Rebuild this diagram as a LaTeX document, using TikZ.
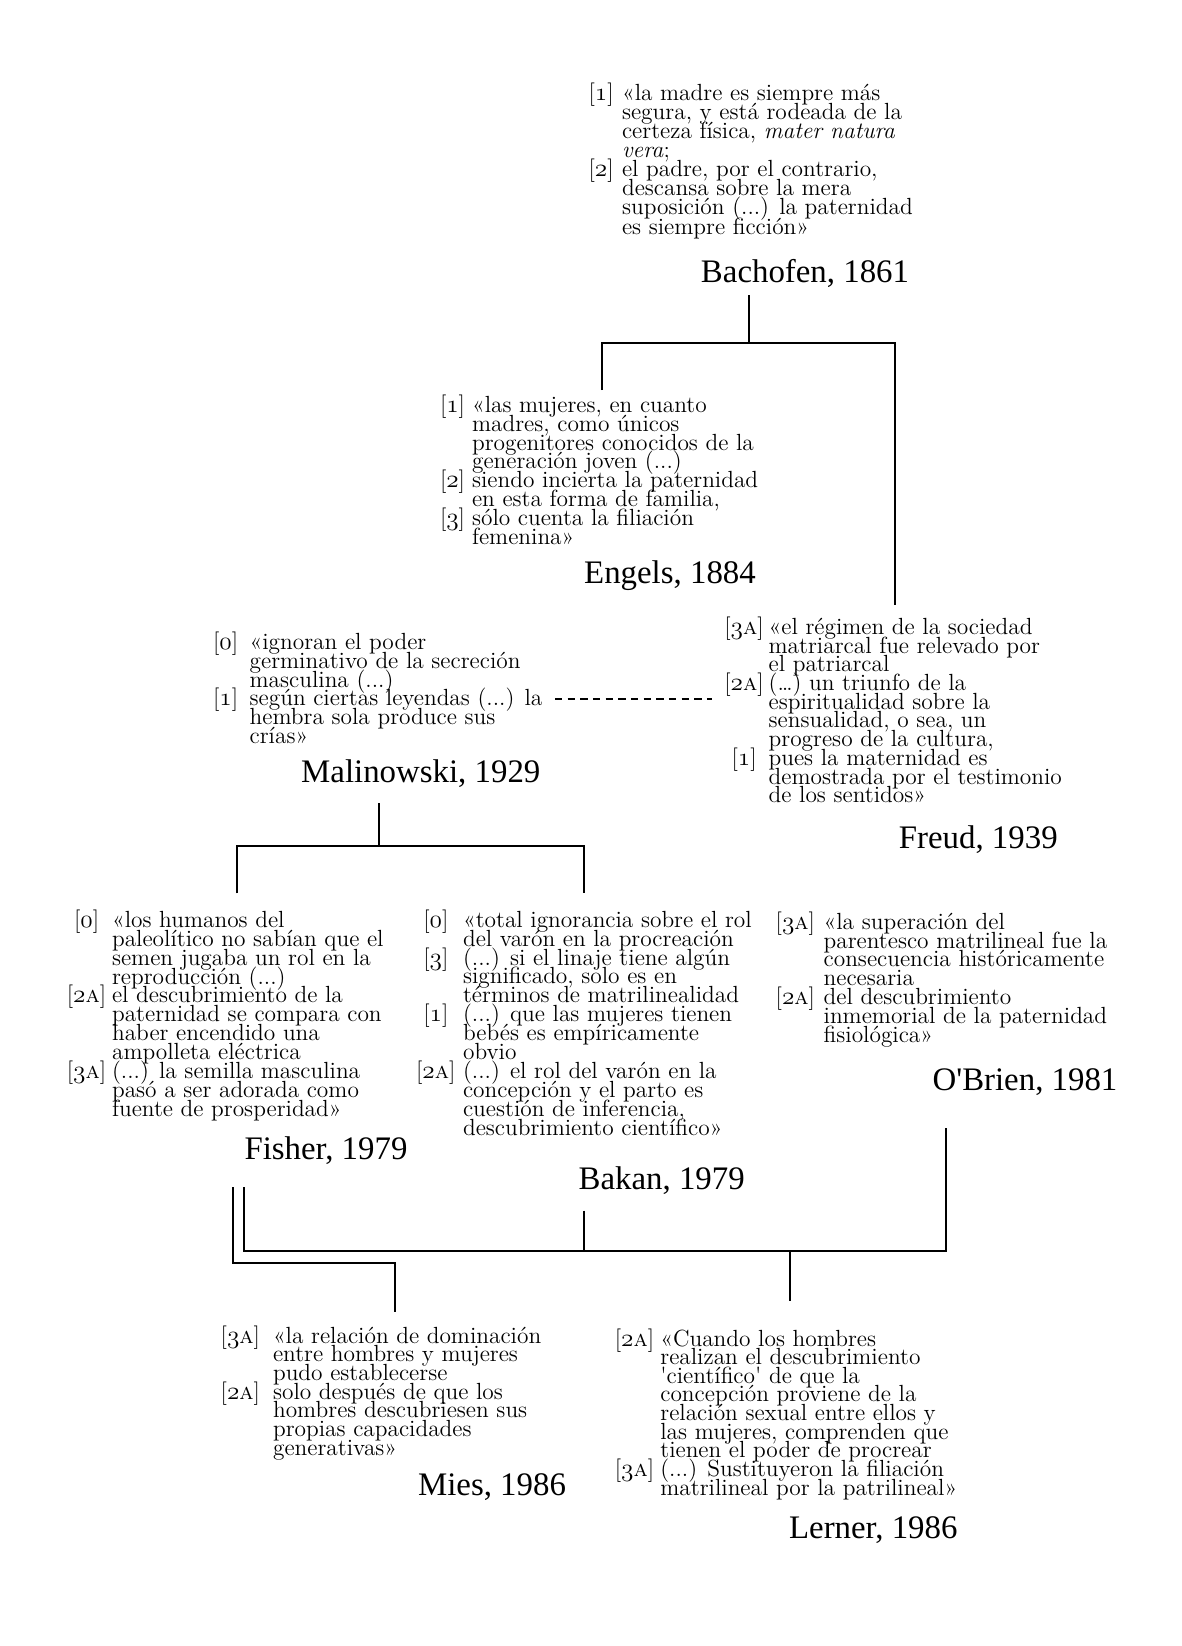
\documentclass[tikz,border=0pt]{standalone}
\usepackage{fontspec}
\usepackage{tikz}
\newfontfamily\nombrefont{Liberation Serif}
\newcommand\osn[1]{{\usefont{OML}{lmm}{m}{it}#1}}
\newcommand\marca[2]{\llap{\makebox[0pt]{[#2]}\hspace{#1}}}
\newcommand\citafont[1]{\fontsize{13.3pt}{#1}\selectfont\lineskiplimit=-40pt\lineskip=0pt}
\tikzset{
  cita/.style={align=left,anchor=base west,inner sep=0pt,font=\citafont{#1}},
  cita/.default=10.64pt,
  autor/.style={anchor=base,inner sep=0pt,font=\nombrefont\fontsize{18.7pt}{22pt}\selectfont},
  rama/.style={line width=1pt},
}

\begin{document}
\begin{tikzpicture}[x=0.02cm,y=-0.02cm]
    \useasboundingbox (0,0) rectangle (1181,1646);
    % citas (ancladas en la ultima linea)
    \node[cita=10.85pt] (bachofen-cita) at (621.7,234) {\marca{11.9pt}{\osn{1}}«la madre es siempre más\\segura, y está rodeada de la\\certeza física, \textit{mater natura}\\\textit{vera};\\\marca{11.9pt}{\osn{2}}el padre, por el contrario,\\descansa sobre la mera\\suposición (...) la paternidad\\es siempre ficción»};
    \node[autor] (bachofen) at (805,282.5) {Bachofen, 1861};
    \node[cita=10.68pt] (engels-cita) at (471.7,544) {\marca{11.1pt}{\osn{1}}«las mujeres, en cuanto\\madres, como únicos\\progenitores conocidos de la\\generación joven (...)\\\marca{11.1pt}{\osn{2}}siendo incierta la paternidad\\en esta forma de familia,\\\marca{11.1pt}{\osn{3}}sólo cuenta la filiación\\femenina»};
    \node[autor] (engels) at (670,583.8) {Engels, 1884};
    \node[cita] (malinowski-cita) at (249.3,743.3) {\marca{13.7pt}{\osn{0}}«ignoran el poder\\germinativo de la secreción\\masculina (...)\\\marca{13.7pt}{\osn{1}}según ciertas leyendas (...) la\\hembra sola produce sus\\crías»};
    \node[autor] (malinowski) at (420.8,782.7) {Malinowski, 1929};
    \node[cita] (freud-cita) at (768.3,802.7) {\marca{14pt}{\osn{3}\textsc{a}}«el régimen de la sociedad\\matriarcal fue relevado por\\el patriarcal\\\marca{14pt}{\osn{2}\textsc{a}}(…) un triunfo de la\\espiritualidad sobre la\\sensualidad, o sea, un\\progreso de la cultura,\\\marca{14pt}{\osn{1}}pues la maternidad es\\demostrada por el testimonio\\de los sentidos»};
    \node[autor] (freud) at (978.3,848) {Freud, 1939};
    \node[cita=10.75pt] (fisher-cita) at (111.7,1116.3) {\marca{14.5pt}{\osn{0}}«los humanos del\\paleolítico no sabían que el\\semen jugaba un rol en la\\reproducción (...)\\\marca{14.5pt}{\osn{2}\textsc{a}}el descubrimiento de la\\paternidad se compara con\\haber encendido una\\ampolleta eléctrica\\\marca{14.5pt}{\osn{3}\textsc{a}}(...) la semilla masculina\\pasó a ser adorada como\\fuente de prosperidad»};
    \node[autor] (fisher) at (326,1159) {Fisher, 1979};
    \node[cita=10.75pt] (bakan-cita) at (462.7,1135) {\marca{15.5pt}{\osn{0}}«total ignorancia sobre el rol\\del varón en la procreación\\\marca{15.5pt}{\osn{3}}(...) si el linaje tiene algún\\significado, solo es en\\términos de matrilinealidad\\\marca{15.5pt}{\osn{1}}(...) que las mujeres tienen\\bebés es empíricamente\\obvio\\\marca{15.5pt}{\osn{2}\textsc{a}}(...) el rol del varón en la\\concepción y el parto es\\cuestión de inferencia,\\descubrimiento científico»};
    \node[autor] (bakan) at (661.7,1189.5) {Bakan, 1979};
    \node[cita=10.75pt] (obrien-cita) at (823.3,1042.5) {\marca{16.1pt}{\osn{3}\textsc{a}}«la superación del\\parentesco matrilineal fue la\\consecuencia históricamente\\necesaria\\\marca{16.1pt}{\osn{2}\textsc{a}}del descubrimiento\\inmemorial de la paternidad\\fisiológica»};
    \node[autor] (obrien) at (1025,1090) {O'Brien, 1981};
    \node[cita=10.59pt] (mies-cita) at (272.7,1455) {\marca{18.6pt}{\osn{3}\textsc{a}}«la relación de dominación\\entre hombres y mujeres\\pudo establecerse\\\marca{18.6pt}{\osn{2}\textsc{a}}solo después de que los\\hombres descubriesen sus\\propias capacidades\\generativas»};
    \node[autor] (mies) at (492,1495) {Mies, 1986};
    \node[cita=10.59pt] (lerner-cita) at (660,1495) {\marca{14.7pt}{\osn{2}\textsc{a}}«Cuando los hombres\\realizan el descubrimiento\\\textquotesingle científico\textquotesingle{} de que la\\concepción proviene de la\\relación sexual entre ellos y\\las mujeres, comprenden que\\tienen el poder de procrear\\\marca{14.7pt}{\osn{3}\textsc{a}}(...) Sustituyeron la filiación\\matrilineal por la patrilineal»};
    \node[autor] (lerner) at (873.3,1538.3) {Lerner, 1986};
    % ramas
    \coordinate (bachofen-pie) at (749.3,295);
    \coordinate (nudo1) at (749.3,342.7);
    \coordinate (engels-cab) at (602.3,390);
    \coordinate (freud-cab) at (895,605);
    \draw[rama] (bachofen-pie) -- (nudo1);
    \draw[rama] (engels-cab) |- (nudo1) -| (freud-cab);
    \coordinate (malinowski-der) at (555,699.3);
    \coordinate (freud-izq) at (712,699.3);
    \draw[line width=1.3pt,dash pattern=on 4.2pt off 3pt] (malinowski-der) -- (freud-izq);
    \coordinate (malinowski-pie) at (379,803);
    \coordinate (nudo2) at (379,846);
    \coordinate (fisher-cab) at (236.7,893.3);
    \coordinate (bakan-cab) at (584.3,893.3);
    \draw[rama] (malinowski-pie) -- (nudo2);
    \draw[rama] (fisher-cab) |- (nudo2) -| (bakan-cab);
    \coordinate (fisher-pie1) at (233.3,1187.3);
    \coordinate (fisher-pie2) at (244.3,1187.3);
    \coordinate (nudo5) at (233.3,1263.3);
    \coordinate (mies-cab) at (395,1311.7);
    \coordinate (bakan-pie) at (584,1210.7);
    \coordinate (nudo3) at (584,1251);
    \coordinate (obrien-pie) at (946,1127.5);
    \coordinate (nudo4) at (790,1251);
    \coordinate (lerner-cab) at (790,1300.7);
    \draw[rama] (fisher-pie1) -- (nudo5) -| (mies-cab);
    \draw[rama] (fisher-pie2) |- (nudo3) -| (obrien-pie);
    \draw[rama] (bakan-pie) -- (nudo3);
    \draw[rama] (nudo4) -- (lerner-cab);
\end{tikzpicture}
\end{document}
